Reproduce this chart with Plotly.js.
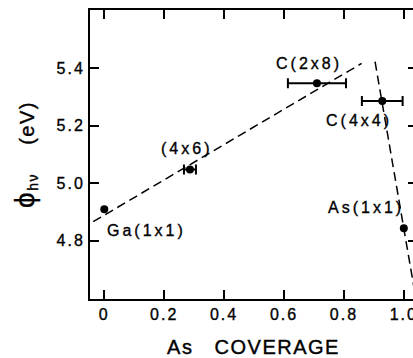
<!DOCTYPE html>
<html>
<head>
<meta charset="utf-8">
<script src="https://cdn.plot.ly/plotly-3.0.1.min.js"></script>
<style>
  html, body { margin: 0; padding: 0; background: #fff; overflow: hidden; }
  #chart { width: 430px; height: 358px; }
  .xtick text, .ytick text { letter-spacing: 2px; stroke: #000; stroke-width: 0.35px; }
  .xtitle, .ytitle { letter-spacing: 1.5px; stroke: #000; stroke-width: 0.4px; }
  .annotation-text { letter-spacing: 3px; stroke: #000; stroke-width: 0.35px; }
</style>
</head>
<body>
<div id="chart"></div>
<script>
// Measured points (As coverage vs photothreshold)
const coverage = [0, 0.286, 0.71, 0.928, 1.0];
const phi = [4.909, 5.048, 5.348, 5.286, 4.843];
const coverageErr = [NaN, 0.02, 0.097, 0.068, NaN];
const labels = ["Ga(1x1)", "(4x6)", "C(2x8)", "C(4x4)", "As(1x1)"];

// Dashed guide lines
const lineA_x = [-0.037, 0.859];
const lineA_y = [4.866, 5.417];
const lineB_x = [0.904, 1.044];
const lineB_y = [5.423, 4.576];

// Tick labels
const xTickVals = [0, 0.2, 0.4, 0.6, 0.8, 1.0];
const xTickText = ["0", "0.2", "0.4", "0.6", "0.8", "1.0"];
const yTickVals = [4.8, 5.0, 5.2, 5.4];
const yTickText = ["4.8", "5.0", "5.2", "5.4"];

const font = "Liberation Sans, Arial, Helvetica, DejaVu Sans, sans-serif";

const traces = [
  {
    x: lineA_x, y: lineA_y, mode: "lines",
    line: { color: "#000", width: 1.5, dash: "9px,5px" },
    hoverinfo: "skip", showlegend: false
  },
  {
    x: lineB_x, y: lineB_y, mode: "lines",
    line: { color: "#000", width: 1.5, dash: "9px,5px" },
    hoverinfo: "skip", showlegend: false
  },
  {
    x: coverage, y: phi, mode: "markers", text: labels,
    marker: { color: "#000", size: 8 },
    error_x: { type: "data", array: coverageErr, visible: true, color: "#000", thickness: 2, width: 5 },
    showlegend: false
  }
];

const annPos = [
  { x: 0.002, y: 4.837, xanchor: "left" },
  { x: 0.274, y: 5.122, xanchor: "center" },
  { x: 0.683, y: 5.418, xanchor: "center" },
  { x: 0.850, y: 5.217, xanchor: "center" },
  { x: 0.874, y: 4.916, xanchor: "center" }
];

const annotations = labels.map((t, i) => ({
  x: annPos[i].x, y: annPos[i].y, xref: "x", yref: "y",
  text: t, showarrow: false, xanchor: annPos[i].xanchor, yanchor: "middle",
  font: { family: font, size: 16, color: "#000" }
}));

const layout = {
  width: 430, height: 358,
  margin: { l: 90, r: 13, t: 10, b: 59 },
  paper_bgcolor: "#fff", plot_bgcolor: "#fff",
  font: { family: font, color: "#000" },
  xaxis: {
    range: [-0.0477, 1.044],
    tickvals: xTickVals, ticktext: xTickText,
    ticks: "inside", ticklen: 9, tickwidth: 2, tickcolor: "#000",
    showline: true, linewidth: 2, linecolor: "#000", mirror: "ticks",
    showgrid: false, zeroline: false,
    tickfont: { family: font, size: 16, color: "#000" },
    title: { text: "As\u00a0\u00a0\u00a0COVERAGE", font: { family: font, size: 20, color: "#000" }, standoff: 20 }
  },
  yaxis: {
    range: [4.597, 5.603],
    tickvals: yTickVals, ticktext: yTickText,
    ticks: "inside", ticklen: 9, tickwidth: 2, tickcolor: "#000",
    showline: true, linewidth: 2, linecolor: "#000", mirror: "ticks",
    showgrid: false, zeroline: false,
    tickfont: { family: font, size: 16, color: "#000" },
    title: {
      text: "<span style=\"font-size:28px\">\u03d5</span><sub>h\u03bd</sub>\u00a0\u00a0\u00a0\u00a0(eV)",
      font: { family: font, size: 20, color: "#000" }, standoff: 17
    }
  },
  annotations: annotations
};

Plotly.newPlot("chart", traces, layout, { displayModeBar: false, staticPlot: true });
</script>
</body>
</html>
